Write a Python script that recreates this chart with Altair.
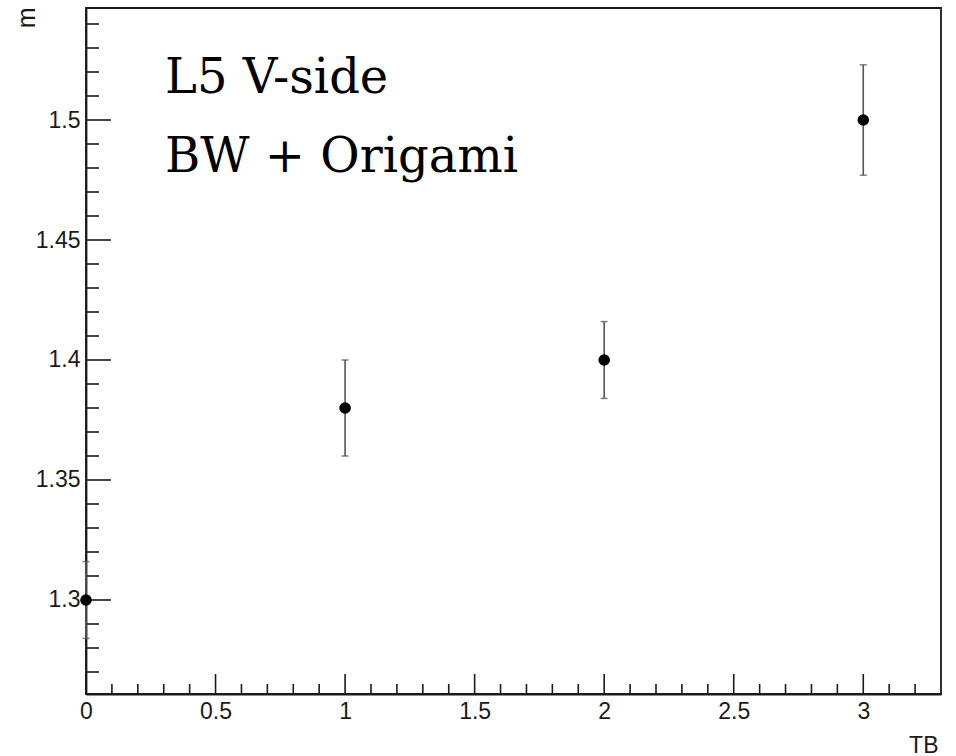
import altair as alt
import pandas as pd

# data
tb = [0, 1, 2, 3]
m_vals = [1.30, 1.38, 1.40, 1.50]
m_err = [0.016, 0.020, 0.016, 0.023]

x_major = [0, 0.5, 1, 1.5, 2, 2.5, 3]
x_minor = [0.1, 0.2, 0.3, 0.4, 0.6, 0.7, 0.8, 0.9, 1.1, 1.2, 1.3, 1.4,
           1.6, 1.7, 1.8, 1.9, 2.1, 2.2, 2.3, 2.4, 2.6, 2.7, 2.8, 2.9,
           3.1, 3.2]
y_major = [1.30, 1.35, 1.40, 1.45, 1.50]
y_minor = [1.27, 1.28, 1.29, 1.31, 1.32, 1.33, 1.34, 1.36, 1.37, 1.38,
           1.39, 1.41, 1.42, 1.43, 1.44, 1.46, 1.47, 1.48, 1.49, 1.51,
           1.52, 1.53, 1.54]
annotation_lines = ["L5 V-side", "BW + Origami"]

W, H = 855, 686
INK = "#1a1a1a"

df = pd.DataFrame({"x": tb, "y": m_vals, "err": m_err})

xscale = alt.Scale(domain=[0, 3.3], nice=False, zero=False)
yscale = alt.Scale(domain=[1.26083, 1.54667], nice=False, zero=False)

x_axis = alt.Axis(values=x_major, ticks=False, grid=False, format="~g",
                  labelFont="Liberation Sans", labelFontSize=23, labelColor=INK,
                  labelPadding=6, domainColor=INK, domainWidth=1.8,
                  title="TB", titleFont="Liberation Sans", titleFontSize=23,
                  titleFontWeight="normal", titleColor=INK,
                  titleAlign="right", titleBaseline="alphabetic",
                  titleX=W - 3, titleY=58, labelFlush=False)
y_axis = alt.Axis(values=y_major, ticks=False, grid=False, format="~g",
                  labelFont="Liberation Sans", labelFontSize=23, labelColor=INK,
                  labelPadding=6, domainColor=INK, domainWidth=1.8,
                  title="m", titleFont="Liberation Sans", titleFontSize=25,
                  titleFontWeight="normal", titleColor=INK, titleAngle=270,
                  titleAlign="right", titleBaseline="middle",
                  titleX=-60, titleY=-1, labelFlush=False)

X = alt.X("x:Q", scale=xscale, axis=x_axis)
Y = alt.Y("y:Q", scale=yscale, axis=y_axis)

base = alt.Chart(df).transform_calculate(
    lo="datum.y - datum.err", hi="datum.y + datum.err"
)

bars = base.mark_rule(color="#555555", strokeWidth=1.6, clip=False).encode(
    x=X, y=alt.Y("lo:Q", scale=yscale, axis=y_axis), y2="hi:Q"
)
caps_lo = base.mark_tick(color="#555555", thickness=1.6, size=7, orient="horizontal").encode(
    x=X, y=alt.Y("lo:Q", scale=yscale, axis=y_axis)
)
caps_hi = base.mark_tick(color="#555555", thickness=1.6, size=7, orient="horizontal").encode(
    x=X, y=alt.Y("hi:Q", scale=yscale, axis=y_axis)
)
pts = base.mark_point(filled=True, color="black", opacity=1, size=135, clip=False).encode(
    x=X, y=Y
)

xmaj = alt.Chart(pd.DataFrame({"x": x_major})).mark_rule(color=INK, strokeWidth=1.6).encode(
    x=X, y=alt.value(H), y2=alt.value(H - 20)
)
xmin = alt.Chart(pd.DataFrame({"x": x_minor})).mark_rule(color=INK, strokeWidth=1.6).encode(
    x=X, y=alt.value(H), y2=alt.value(H - 10)
)
ymaj = alt.Chart(pd.DataFrame({"y": y_major})).mark_rule(color=INK, strokeWidth=1.6).encode(
    y=Y, x=alt.value(0), x2=alt.value(25)
)
ymin = alt.Chart(pd.DataFrame({"y": y_minor})).mark_rule(color=INK, strokeWidth=1.6).encode(
    y=Y, x=alt.value(0), x2=alt.value(13)
)

label = alt.Chart(pd.DataFrame({"t": [0]})).mark_text(
    font="DejaVu Serif", fontSize=48, color="black", align="left",
    baseline="alphabetic", lineHeight=79
).encode(x=alt.value(79), y=alt.value(85), text=alt.value(annotation_lines))

chart = alt.layer(xmin, xmaj, ymin, ymaj, bars, caps_lo, caps_hi, pts, label).properties(
    width=W, height=H,
    background="white",
    autosize=alt.AutoSizeParams(type="none"),
    padding={"left": 86, "top": 8, "right": 15, "bottom": 62},
).configure_view(stroke=INK, strokeWidth=1.8)

chart.save("out.html", embed_options={"renderer": "svg", "actions": False})
